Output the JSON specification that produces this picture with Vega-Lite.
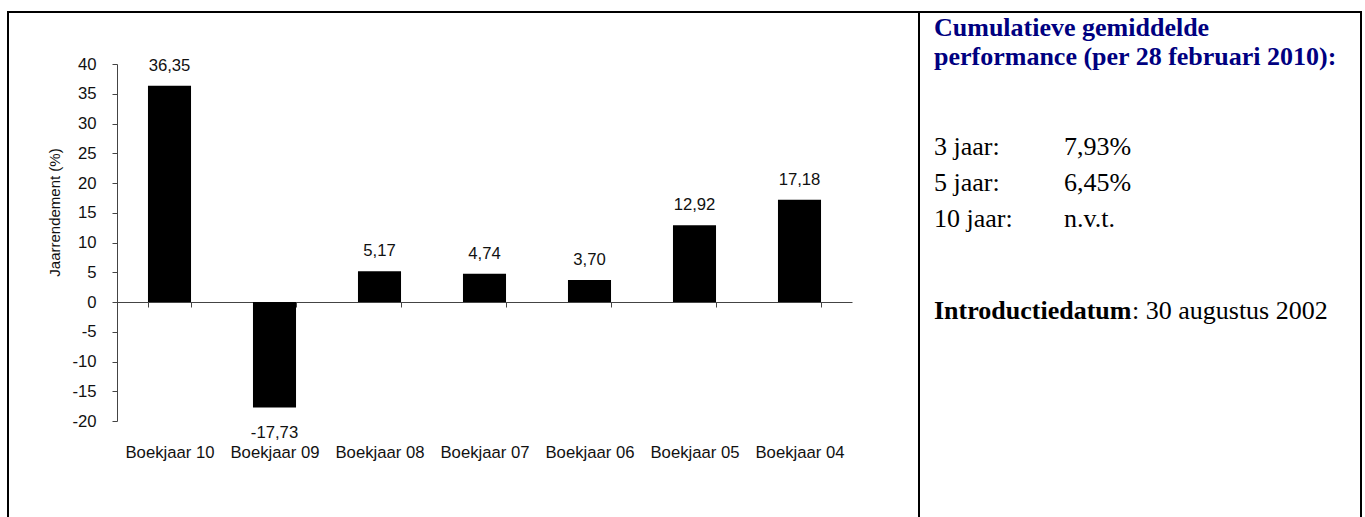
{
  "$schema": "https://vega.github.io/schema/vega-lite/v6.json",
  "padding": {"left": 7, "top": 11, "right": 5, "bottom": 0},
  "background": "white",
  "spacing": 0,
  "bounds": "flush",
  "datasets": {
    "bars": [
      {"jaar": "Boekjaar 10", "rendement": 36.35},
      {"jaar": "Boekjaar 09", "rendement": -17.73},
      {"jaar": "Boekjaar 08", "rendement": 5.17},
      {"jaar": "Boekjaar 07", "rendement": 4.74},
      {"jaar": "Boekjaar 06", "rendement": 3.70},
      {"jaar": "Boekjaar 05", "rendement": 12.92},
      {"jaar": "Boekjaar 04", "rendement": 17.18}
    ],
    "kop": [
      {"txt": "Cumulatieve gemiddelde"},
      {"txt": "performance (per 28 februari 2010):"}
    ],
    "perf": [
      {"period": "3 jaar:", "perf": "7,93%"},
      {"period": "5 jaar:", "perf": "6,45%"},
      {"period": "10 jaar:", "perf": "n.v.t."}
    ],
    "intro": [
      {"period": "Introductiedatum", "rest": ": 30 augustus 2002"}
    ]
  },
  "hconcat": [
    {
      "width": 911,
      "height": 508,
      "data": {"name": "bars"},
      "layer": [
        {
          "mark": {"type": "bar", "color": "#000000"},
          "encoding": {
            "x": {
              "field": "jaar", "type": "nominal", "sort": null,
              "scale": {"range": [109, 844], "paddingInner": 0.59, "paddingOuter": 0.295},
              "axis": {"title": null, "orient": "bottom", "offset": -218, "tickBand": "extent", "tickSize": 5, "labelPadding": 137, "labelAngle": 0, "labelBaseline": "top"}
            },
            "y": {
              "field": "rendement", "type": "quantitative",
              "scale": {"domain": [-20, 40], "range": [409, 52], "nice": false},
              "axis": {"title": "Jaarrendement (%)", "values": [-20, -15, -10, -5, 0, 5, 10, 15, 20, 25, 30, 35, 40], "offset": -109, "tickSize": 5, "labelPadding": 16, "titlePadding": 9, "titleY": 200, "titleFontSize": 15, "grid": false, "format": "d"}
            }
          }
        },
        {
          "transform": [{"filter": "datum.rendement >= 0"}],
          "mark": {"type": "text", "baseline": "alphabetic", "dy": -15, "font": "Liberation Sans", "fontSize": 16.7, "color": "#111111"},
          "encoding": {
            "x": {"field": "jaar", "type": "nominal", "sort": null},
            "y": {"field": "rendement", "type": "quantitative"},
            "text": {"field": "rendement", "type": "quantitative", "format": ".2f"}
          }
        },
        {
          "transform": [{"filter": "datum.rendement < 0"}],
          "mark": {"type": "text", "baseline": "alphabetic", "dy": 31, "font": "Liberation Sans", "fontSize": 16.7, "color": "#111111"},
          "encoding": {
            "x": {"field": "jaar", "type": "nominal", "sort": null},
            "y": {"field": "rendement", "type": "quantitative"},
            "text": {"field": "rendement", "type": "quantitative", "format": ".2f"}
          }
        }
      ]
    },
    {
      "width": 442,
      "height": 508,
      "resolve": {"scale": {"y": "independent"}},
      "layer": [
        {
          "data": {"name": "kop"},
          "mark": {"type": "text", "align": "left", "baseline": "alphabetic", "font": "Liberation Serif", "fontSize": 26, "fontWeight": "bold", "color": "#000080"},
          "encoding": {
            "x": {"datum": "period", "type": "nominal", "scale": {"type": "point", "domain": ["period", "perf"], "range": [15, 145], "padding": 0}, "axis": null},
            "y": {"field": "txt", "type": "nominal", "sort": null, "scale": {"type": "point", "range": [24, 53], "padding": 0}, "axis": null},
            "text": {"field": "txt"}
          }
        },
        {
          "layer": [
            {
              "data": {"name": "perf"},
              "transform": [{"fold": ["period", "perf"], "as": ["col", "txt"]}],
              "mark": {"type": "text", "align": "left", "baseline": "alphabetic", "font": "Liberation Serif", "fontSize": 26, "color": "#000000"},
              "encoding": {
                "x": {"field": "col", "type": "nominal", "axis": null},
                "y": {"field": "period", "type": "nominal", "scale": {"type": "point", "domain": ["3 jaar:", "5 jaar:", "10 jaar:", "_a", "_b", "Introductiedatum"], "range": [143, 323], "padding": 0}, "axis": null},
                "text": {"field": "txt"}
              }
            },
            {
              "data": {"name": "intro"},
              "mark": {"type": "text", "align": "left", "baseline": "alphabetic", "dy": -16, "font": "Liberation Serif", "fontSize": 26, "fontWeight": "bold", "color": "#000000"},
              "encoding": {
                "x": {"datum": "period", "type": "nominal", "axis": null},
                "y": {"field": "period", "type": "nominal", "axis": null},
                "text": {"field": "period"}
              }
            },
            {
              "data": {"name": "intro"},
              "mark": {"type": "text", "align": "left", "baseline": "alphabetic", "dx": 198, "dy": -16, "font": "Liberation Serif", "fontSize": 26, "color": "#000000"},
              "encoding": {
                "x": {"datum": "period", "type": "nominal", "axis": null},
                "y": {"field": "period", "type": "nominal", "axis": null},
                "text": {"field": "rest"}
              }
            }
          ]
        }
      ]
    }
  ],
  "config": {
    "view": {"stroke": "#000000", "strokeWidth": 2},
    "locale": {"number": {"decimal": ",", "thousands": ".", "grouping": [3], "currency": ["€ ", ""], "minus": "-"}},
    "axis": {
      "labelFont": "Liberation Sans", "labelFontSize": 16.7, "labelColor": "#111111",
      "titleFont": "Liberation Sans", "titleFontSize": 16, "titleFontWeight": "normal", "titleColor": "#111111",
      "domainColor": "#444444", "tickColor": "#444444", "grid": false
    }
  }
}
